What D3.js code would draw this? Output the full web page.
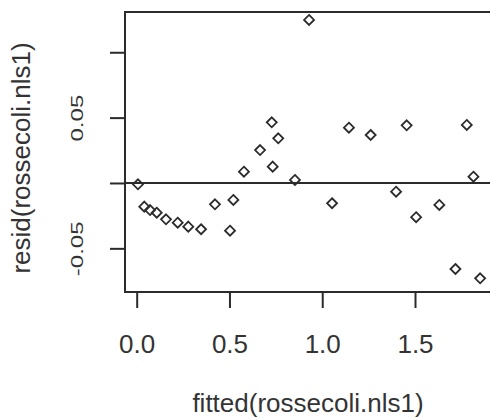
<!DOCTYPE html>
<html>
<head>
<meta charset="utf-8">
<script src="https://cdn.jsdelivr.net/npm/d3@7"></script>
<style>
  body { margin: 0; background: #fff; }
  text { font-family: "Liberation Sans", Arial, sans-serif; fill: #333; }
</style>
</head>
<body>
<div id="chart"></div>
<script>
// residuals vs fitted values for rossecoli.nls1 (R base graphics look)
var fittedVals = [0.007, 0.041, 0.072, 0.108, 0.158, 0.221, 0.278, 0.347, 0.422, 0.503,
                  0.521, 0.578, 0.665, 0.728, 0.733, 0.763, 0.853, 0.929, 1.053, 1.144,
                  1.261, 1.398, 1.455, 1.506, 1.631, 1.718, 1.779, 1.815, 1.851];
var residVals = [-0.0010, -0.0181, -0.0207, -0.0227, -0.0278, -0.0304, -0.0334, -0.0354, -0.0163, -0.0365,
                 -0.0130, 0.0086, 0.0252, 0.0464, 0.0125, 0.0342, 0.0023, 0.1247, -0.0155, 0.0423,
                 0.0367, -0.0067, 0.0441, -0.0262, -0.0168, -0.0658, 0.0444, 0.0048, -0.0729];
var xTicks = [0, 0.5, 1.0, 1.5];
var yTicks = [-0.05, 0, 0.05, 0.10];
var yTickLabels = ["-0.05", "", "0.05", ""];

var width = 490, height = 418;
var plot = {left: 125, top: 12, bottom: 292, right: 492};
var ink = "#2b2b2b";

var svg = d3.select("#chart").append("svg")
    .attr("width", width)
    .attr("height", height);

// scales (plot region is 4% wider than the data, like R)
var xScale = d3.scaleLinear()
    .domain([-0.063, 1.915])
    .range([plot.left, plot.right]);

var yScale = d3.scaleLinear()
    .domain([-0.0834, 0.1308])
    .range([plot.bottom, plot.top]);

// box (right side runs off the page)
svg.append("path")
    .attr("d", "M" + (plot.right + 5) + "," + plot.top + "H" + plot.left +
               "V" + plot.bottom + "H" + (plot.right + 5))
    .attr("fill", "none")
    .attr("stroke", ink)
    .attr("stroke-width", 2);

// abline(h = 0)
svg.append("line")
    .attr("x1", plot.left).attr("x2", plot.right + 5)
    .attr("y1", yScale(0)).attr("y2", yScale(0))
    .attr("stroke", ink)
    .attr("stroke-width", 2);

// x axis
var xAxis = svg.append("g")
    .attr("transform", "translate(0," + plot.bottom + ")")
    .call(d3.axisBottom(xScale).tickValues(xTicks).tickSize(16).tickFormat(d3.format(".1f")));
xAxis.select(".domain").remove();
xAxis.selectAll(".tick line").attr("stroke", ink).attr("stroke-width", 2);
xAxis.selectAll(".tick text")
    .attr("y", 61)
    .attr("dy", null)
    .attr("fill", "#333")
    .style("font-size", "26px");

// y axis
var yAxis = svg.append("g")
    .attr("transform", "translate(" + plot.left + ",0)")
    .call(d3.axisLeft(yScale).tickValues(yTicks).tickSize(15)
        .tickFormat(function(d, i) { return yTickLabels[i]; }));
yAxis.select(".domain").remove();
yAxis.selectAll(".tick line").attr("stroke", ink).attr("stroke-width", 2);
yAxis.selectAll(".tick text")
    .attr("x", null)
    .attr("dy", null)
    .attr("fill", "#333")
    .attr("text-anchor", "middle")
    .attr("dominant-baseline", "central")
    .attr("transform", "translate(-48,0) rotate(-90) scale(1,0.68)")
    .style("font-size", "24px");

// points, pch = 5 (open diamond)
var r = 5;
svg.selectAll(".pt")
    .data(fittedVals)
    .enter().append("path")
    .attr("class", "pt")
    .attr("d", "M0," + (-r) + "L" + r + ",0L0," + r + "L" + (-r) + ",0Z")
    .attr("transform", function(d, i) {
        return "translate(" + xScale(d) + "," + yScale(residVals[i]) + ")";
    })
    .attr("fill", "none")
    .attr("stroke", ink)
    .attr("stroke-width", 1.8);

// axis titles
svg.append("text")
    .attr("x", 308)
    .attr("y", 412)
    .attr("text-anchor", "middle")
    .style("font-size", "26px")
    .text("fitted(rossecoli.nls1)");

svg.append("text")
    .attr("transform", "translate(30,158) rotate(-90)")
    .attr("text-anchor", "middle")
    .style("font-size", "26px")
    .text("resid(rossecoli.nls1)");
</script>
</body>
</html>
